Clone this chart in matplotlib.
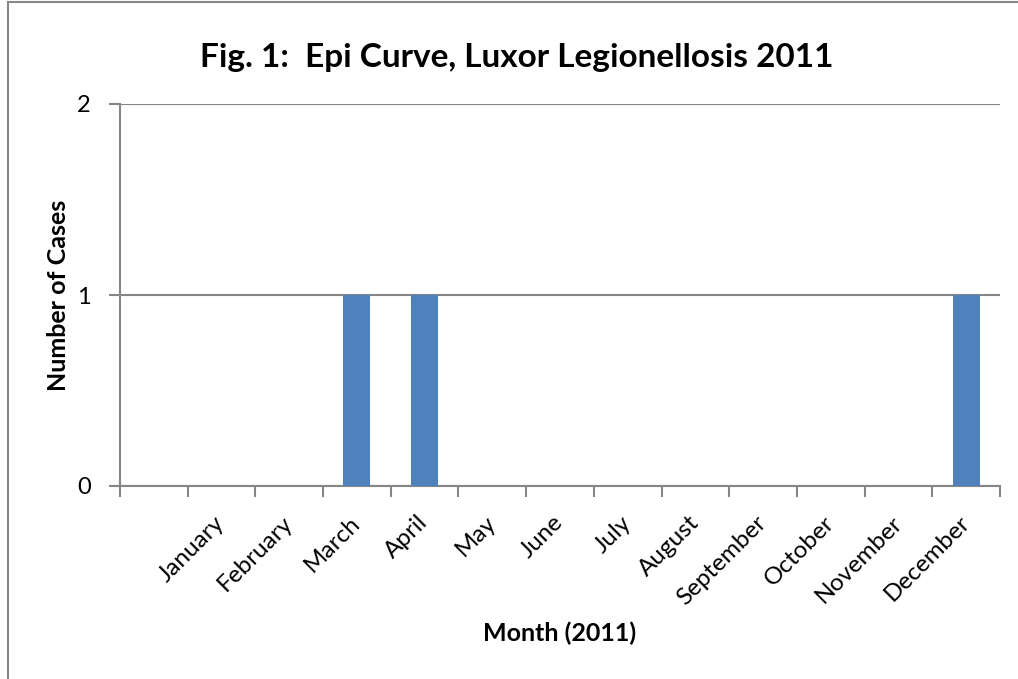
import matplotlib.pyplot as plt
from matplotlib.patches import Rectangle

# first category has no label (as in the source sheet)
months = ["", "January", "February", "March", "April", "May", "June",
          "July", "August", "September", "October", "November", "December"]
cases = [0, 0, 0, 1, 1, 0, 0, 0, 0, 0, 0, 0, 1]

plt.rcParams["font.family"] = ["Lato", "DejaVu Sans"]
grey = "#868686"

fig = plt.figure(figsize=(10.18, 6.79), dpi=100)
ax = fig.add_axes([120 / 1018, 1 - 486 / 679, 880 / 1018, 382 / 679])

x = list(range(len(months)))
ax.bar(x, cases, width=0.4, color="#4F81BD", zorder=3)

ax.set_xlim(-0.5, len(months) - 0.5)
ax.set_ylim(0, 2)
ax.set_yticks([0, 1, 2])
ax.yaxis.grid(True, color=grey, linewidth=1.5)
ax.set_axisbelow(True)

# tick marks between categories, labels at category centres
ax.set_xticks([i - 0.5 for i in range(len(months) + 1)])
ax.set_xticklabels([])
ax.set_xticks(x, minor=True)
ax.set_xticklabels(months, minor=True, rotation=45, ha="right",
                   va="center", rotation_mode="anchor", fontsize=17.5)
ax.tick_params(axis="x", which="minor", length=0, pad=24)
ax.tick_params(axis="x", which="major", length=8, width=1.5, color=grey)
ax.tick_params(axis="y", length=8, width=1.5, color=grey, labelsize=17, pad=13)

for s in ["top", "right"]:
    ax.spines[s].set_visible(False)
for s in ["left", "bottom"]:
    ax.spines[s].set_color(grey)
    ax.spines[s].set_linewidth(1.5)

ax.set_ylabel("Number of Cases", fontsize=18, fontweight="bold", va="center")
ax.yaxis.set_label_coords(-62 / 880, 0.5)
ax.set_xlabel("Month (2011)", fontsize=18, fontweight="bold", va="center")
ax.xaxis.set_label_coords(440 / 880, -147 / 382)
fig.text(517 / 1018, 1 - 58 / 679, "Fig. 1:  Epi Curve, Luxor Legionellosis 2011",
         ha="center", va="center", fontsize=24, fontweight="bold")

# chart area border (runs off the right and bottom edges)
fig.patches.append(Rectangle((8 / 1018, -0.1), 1.2, 1.1 - 2 / 679,
                             transform=fig.transFigure, fill=False,
                             edgecolor=grey, linewidth=1.5))

fig.savefig("out.png", dpi=100)
